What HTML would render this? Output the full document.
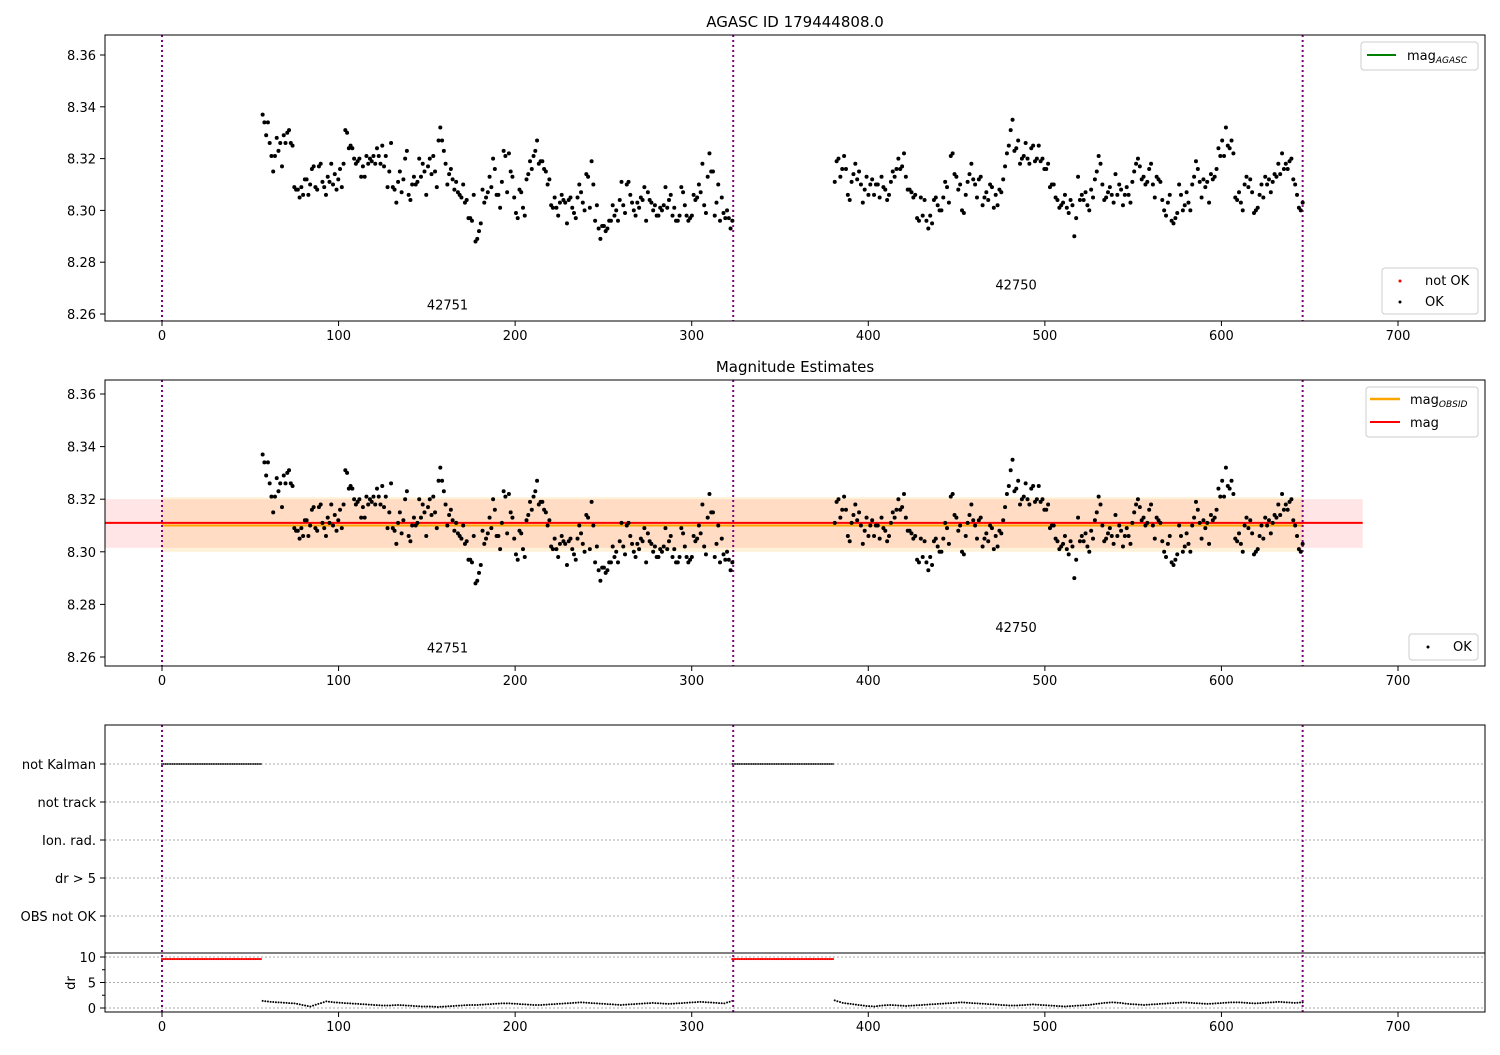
<!DOCTYPE html>
<html><head><meta charset="utf-8"><style>
body{margin:0;background:#fff;}
svg text{font-family:"DejaVu Sans","Liberation Sans",sans-serif;}
</style></head><body>
<svg id="fig" width="1500" height="1050" xmlns="http://www.w3.org/2000/svg"></svg>
<script>
// ---- data ----
const seg1Start = 57, seg1End = 323;
const seg1Mag = [337,334,329,334,326,321,315,321,328,323,326,317,329,326,330,331,326,325,309,308,308,305,309,306,312,312,306,310,316,317,309,308,317,318,311,309,306,313,311,318,310,314,308,312,316,309,318,331,330,324,325,324,320,318,319,320,313,317,313,321,318,320,319,321,318,324,321,318,325,317,321,309,315,326,309,308,303,311,315,307,312,320,323,306,304,310,313,310,311,320,313,318,315,306,317,320,314,321,315,309,327,332,327,323,318,310,314,316,312,308,311,307,306,305,310,303,304,297,297,296,306,288,289,292,295,308,303,305,307,313,309,320,316,306,306,301,311,323,321,307,322,315,313,305,299,297,308,307,301,298,312,314,319,316,321,323,327,318,319,319,316,315,310,312,302,301,305,301,298,303,306,304,303,295,304,305,301,299,297,305,310,307,303,300,314,313,301,319,310,296,302,293,289,294,294,292,293,296,296,302,298,300,296,304,311,302,299,310,311,306,303,300,298,303,301,305,304,309,296,307,304,303,300,302,298,298,301,300,302,309,301,304,306,298,301,296,296,298,309,307,302,298,296,297,298,306,304,305,310,307,318,302,299,313,322,315,315,298,303,310,296,305,299,297,300,297,293,296];
const seg2Start = 381, seg2End = 646;
const seg2Mag = [311,319,320,313,316,321,316,306,304,311,314,318,312,315,310,303,308,313,306,310,312,306,310,310,305,313,309,308,304,306,311,315,313,316,320,316,317,322,313,308,308,307,305,306,297,296,305,298,304,296,293,298,295,304,305,302,300,300,305,311,309,303,321,322,314,313,308,310,300,299,306,311,314,318,312,310,305,312,313,302,305,307,304,310,309,301,306,302,308,307,312,317,322,325,331,335,323,324,327,318,320,321,326,320,318,324,325,319,320,325,319,320,316,316,318,309,310,310,305,304,301,302,303,306,301,299,304,302,290,297,313,304,306,304,307,302,300,308,305,312,315,321,318,310,304,305,307,309,306,303,314,306,310,308,302,306,309,306,303,311,315,318,320,317,312,313,310,311,316,318,310,305,313,312,311,304,300,298,303,306,296,295,297,299,310,306,300,302,307,303,300,310,313,319,316,311,305,312,309,311,303,314,312,313,316,324,321,327,321,332,325,324,327,322,305,304,307,303,300,310,313,309,312,307,299,300,301,306,310,305,313,310,312,307,311,314,313,318,314,322,316,318,316,319,320,312,310,306,301,300,303];
const seg1Dr = [1.4,1.2,1.1,1.0,0.9,0.6,0.3,0.8,1.3,1.1,1.0,0.9,0.8,0.7,0.6,0.5,0.5,0.6,0.5,0.4,0.3,0.3,0.2,0.3,0.4,0.5,0.6,0.6,0.7,0.8,0.9,0.9,0.8,0.7,0.6,0.6,0.7,0.8,0.9,1.0,1.1,1.0,0.9,0.8,0.7,0.6,0.7,0.8,0.9,1.0,0.9,0.8,0.9,1.0,1.1,1.2,1.1,1.0,0.9,1.4];
const seg2Dr = [1.5,1.0,0.8,0.6,0.4,0.3,0.5,0.6,0.5,0.4,0.5,0.6,0.7,0.8,0.9,1.0,1.1,1.0,0.9,0.8,0.7,0.6,0.5,0.5,0.6,0.7,0.6,0.5,0.4,0.3,0.4,0.5,0.6,0.8,1.0,1.1,1.0,0.8,0.7,0.6,0.7,0.8,0.9,1.0,1.1,1.0,0.9,0.8,0.9,1.0,1.1,1.1,1.0,0.9,1.0,1.1,1.2,1.1,1.0,1.1];
const flagRanges = [[0,56],[323,380]];
const obsBounds = [0,323.5,646];
const xTicks = [0,100,200,300,400,500,600,700];
const yTicks = [8.26,8.28,8.30,8.32,8.34,8.36];
const flagLabels = ["not Kalman","not track","Ion. rad.","dr > 5","OBS not OK"];
const drTicks = [0,5,10];
const magMean = 8.311, magLo = 8.3015, magHi = 8.3200;
const obsMean = [8.310, 8.310], obsLo = [8.300,8.300], obsHi = [8.3208,8.3208];
const obsLabels = ["42751","42750"];

// ---- helpers ----
const NS="http://www.w3.org/2000/svg", svg=document.getElementById('fig');
function mk(tag, attrs, parent){const e=document.createElementNS(NS,tag);for(const k in attrs)e.setAttribute(k,attrs[k]);(parent||svg).appendChild(e);return e;}
const X0=105,X1=1485;
const xs = v => 162 + v*(1398-162)/700;
function yMag(top){ return v => top.y0 + (8.36 - v)*top.k; }
const P1={top:35,bot:321,y0:55,k:2590};
const P2={top:380,bot:666,y0:394,k:2630};
const FL={top:725,bot:953};
const DR={top:953,bot:1012};
const yDr = v => 1008 - v*(1008-957)/10;
const flagY = i => 764 + i*38;

function seq(start,end,n){const a=[];for(let i=0;i<n;i++)a.push(start+(end-start)*i/(n-1));return a;}
const x1 = seq(seg1Start,seg1End,seg1Mag.length), x2 = seq(seg2Start,seg2End,seg2Mag.length);

function xAxis(bot){
  xTicks.forEach(t=>{const x=xs(t);
    const l=mk('line',{x1:x,x2:x,y1:bot,y2:bot+5,stroke:'#000'});
    
    const tx=mk('text',{x:x,y:bot+19,'font-size':13,'text-anchor':'middle'});tx.textContent=t;
    });
}
function frame(top,bot,name){const r=mk('rect',{x:X0,y:top,width:X1-X0,height:bot-top,fill:'none',stroke:'#000','stroke-width':1});
  }
function vlines(top,bot){obsBounds.forEach(b=>{const l=mk('line',{x1:xs(b),x2:xs(b),y1:top,y2:bot,stroke:'#800080','stroke-width':2,'stroke-dasharray':'2,3'});
  });}
function yAxisMag(P){const f=yMag(P);yTicks.forEach(t=>{const y=f(t);
  const l=mk('line',{x1:X0-5,x2:X0,y1:y,y2:y,stroke:'#000'});
  const tx=mk('text',{x:X0-9,y:y+5,'font-size':13,'text-anchor':'end'});tx.textContent=t.toFixed(2);
  });}
function points(P,g){const f=yMag(P);
  [[x1,seg1Mag],[x2,seg2Mag]].forEach(([xx,mm])=>mm.forEach((m,i)=>{
    const c=mk('circle',{cx:xs(xx[i]),cy:f(8+m/1000),r:2,fill:'#000'},g);
    }));}
function legendBox(x,y,w,h){const r=mk('rect',{x:x,y:y,width:w,height:h,rx:3,fill:'#fff',stroke:'#ccc'});}
function label(txt,x,y,anchor,size,name){const t=mk('text',{x:x,y:y,'font-size':size||13,'text-anchor':anchor||'start'});t.textContent=txt;return t;}

// ---- panel 1 ----
label('AGASC ID 179444808.0',795,27,'middle',15,'title-agasc');
vlines(P1.top,P1.bot);
points(P1,svg);
label(obsLabels[0],xs(150),yMag(P1)(8.2617),'start',13,'obsid-label');
label(obsLabels[1],xs(472),yMag(P1)(8.2695),'start',13,'obsid-label');
frame(P1.top,P1.bot,'agasc-axes');yAxisMag(P1);xAxis(P1.bot);
legendBox(1361,42,117,28);
mk('line',{x1:1367,x2:1396,y1:55,y2:55,stroke:'green','stroke-width':2});
let t=label('mag',1407,60,'start',13,'legend-mag-agasc');let ts=mk('tspan',{'font-size':9,'font-style':'italic',dy:3},t);ts.textContent='AGASC';
legendBox(1382,268,96,46);
mk('circle',{cx:1400,cy:281,r:1.5,fill:'red'});label('not OK',1425,285,'start',13,'legend-not-ok');
mk('circle',{cx:1400,cy:302,r:1.5,fill:'#000'});label('OK',1425,306,'start',13,'legend-ok');

// ---- panel 2 ----
label('Magnitude Estimates',795,372,'middle',15,'title-mag-estimates');
const f2=yMag(P2);
let b=mk('rect',{x:X0,y:f2(magHi),width:xs(680)-X0,height:f2(magLo)-f2(magHi),fill:'rgba(255,0,0,0.1)'});
[[0,323.5],[323.5,646]].forEach((r,i)=>{const bb=mk('rect',{x:xs(r[0]),y:f2(obsHi[i]),width:xs(r[1])-xs(r[0]),height:f2(obsLo[i])-f2(obsHi[i]),fill:'rgba(255,165,0,0.15)'});
  
  const ln=mk('line',{x1:xs(r[0]),x2:xs(r[1]),y1:f2(obsMean[i]),y2:f2(obsMean[i]),stroke:'orange','stroke-width':2});});
let ml=mk('line',{x1:X0,x2:xs(680),y1:f2(magMean),y2:f2(magMean),stroke:'red','stroke-width':2});
vlines(P2.top,P2.bot);
points(P2,svg);
label(obsLabels[0],xs(150),f2(8.2617),'start',13,'obsid-label');
label(obsLabels[1],xs(472),f2(8.2695),'start',13,'obsid-label');
frame(P2.top,P2.bot,'mag-axes');yAxisMag(P2);xAxis(P2.bot);
legendBox(1366,387,112,50);
mk('line',{x1:1370,x2:1400,y1:399,y2:399,stroke:'orange','stroke-width':2.5});
t=label('mag',1410,404,'start',13,'legend-mag-obsid');ts=mk('tspan',{'font-size':9,'font-style':'italic',dy:3},t);ts.textContent='OBSID';
mk('line',{x1:1370,x2:1400,y1:422,y2:422,stroke:'red','stroke-width':2});label('mag',1410,427,'start',13,'legend-mag');
legendBox(1409,634,69,26);
mk('circle',{cx:1428,cy:647,r:1.5,fill:'#000'});label('OK',1453,651,'start',13,'legend-ok-2');

// ---- panel 3 flags ----
flagLabels.forEach((lab,i)=>{const y=flagY(i);
  const g=mk('line',{x1:X0,x2:X1,y1:y,y2:y,stroke:'#aaa','stroke-dasharray':'2,2'});
  mk('line',{x1:X0-5,x2:X0,y1:y,y2:y,stroke:'#000'});
  label(lab,X0-9,y+5,'end',13,'flag-label');});
flagRanges.forEach(r=>{for(let v=r[0];v<=r[1];v++){
  const c=mk('circle',{cx:xs(v),cy:flagY(0),r:0.9,fill:'#000'});}});
// dr
drTicks.forEach(d=>{const y=yDr(d);const g=mk('line',{x1:X0,x2:X1,y1:y,y2:y,stroke:'#aaa','stroke-dasharray':'2,2'});
  mk('line',{x1:X0-5,x2:X0,y1:y,y2:y,stroke:'#000'});label(String(d),X0-9,y+5,'end',13,'dr-tick-label');});
[2.5,7.5].forEach(d=>mk('line',{x1:X0-3,x2:X0,y1:yDr(d),y2:yDr(d),stroke:'#000'}));
flagRanges.forEach(r=>{for(let v=r[0];v<=r[1];v++){
  const c=mk('circle',{cx:xs(v),cy:yDr(9.6),r:1.1,fill:'red'});}});
[[seg1Start,seg1End,seg1Dr],[seg2Start,seg2End,seg2Dr]].forEach(([s,e,d])=>{const xx=seq(s,e,d.length);
  d.forEach((v,i)=>{const c=mk('circle',{cx:xs(xx[i]),cy:yDr(v),r:1,fill:'#000'});
  if(i<d.length-1){for(let k=1;k<3;k++){const fr=k/3;const m=mk('circle',{cx:xs(xx[i])+fr*(xs(xx[i+1])-xs(xx[i])),cy:yDr(v)+fr*(yDr(d[i+1])-yDr(v)),r:1,fill:'#000'});}}
  });});
vlines(FL.top,DR.bot);
frame(FL.top,FL.bot,'flags-axes');frame(DR.top,DR.bot,'dr-axes');
const dt=label('dr',70,988,'middle',13,'dr-axis-title');dt.setAttribute('transform','rotate(-90 70 983)');
xAxis(DR.bot);
</script>
</body></html>
